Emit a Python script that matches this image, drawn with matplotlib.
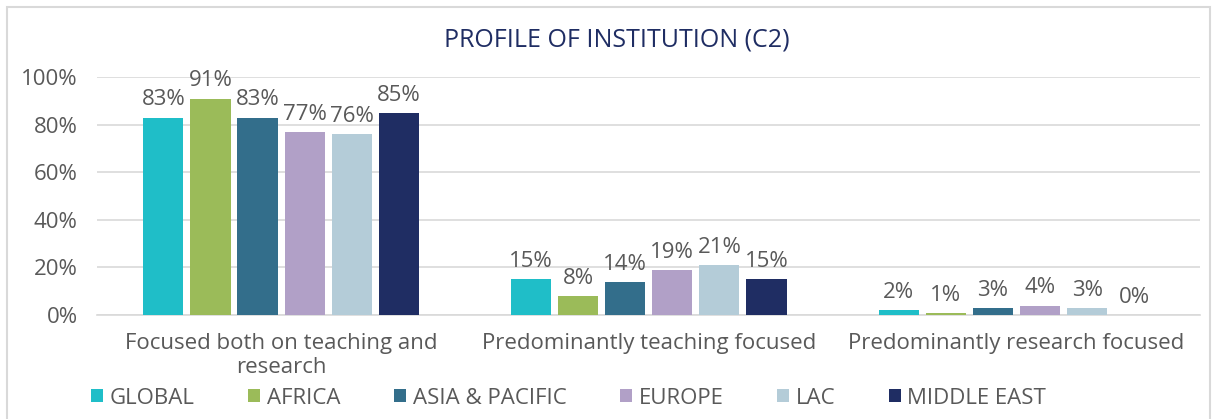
"""
Profile of institution (C2): grouped bar chart by region.
"""

import matplotlib.pyplot as plt
import numpy as np
from matplotlib.patches import Rectangle

# ---------------------------------------------------------------------------
# Data
# ---------------------------------------------------------------------------
CATEGORIES = ["Focused both on teaching and\nresearch",
              "Predominantly teaching focused",
              "Predominantly research focused"]
REGIONS = ["GLOBAL", "AFRICA", "ASIA & PACIFIC", "EUROPE", "LAC", "MIDDLE EAST"]
GLOBAL      = [83, 15, 2]
AFRICA      = [91, 8, 1]
ASIA_PAC    = [83, 14, 3]
EUROPE      = [77, 19, 4]
LAC         = [76, 21, 3]
MIDDLE_EAST = [85, 15, 0]
SERIES = [GLOBAL, AFRICA, ASIA_PAC, EUROPE, LAC, MIDDLE_EAST]
Y_TICKS = [0, 20, 40, 60, 80, 100]

COLORS = ["#1FBEC8", "#9BBB59", "#336E8B", "#B1A0C7", "#B4CCD8", "#1F2D63"]
TEXT = "#595959"
TITLE_COLOR = "#1F2D63"
FS = 16

plt.rcParams["font.family"] = ["Open Sans", "DejaVu Sans"]

fig = plt.figure(figsize=(12.15, 4.19), dpi=100)
fig.patches.append(Rectangle((0.006, -0.01), 0.99, 0.993, transform=fig.transFigure,
                             fill=False, edgecolor="#D9D9D9", linewidth=1.5))

ax = fig.add_axes([0.080, 0.248, 0.908, 0.568])

x = np.arange(len(CATEGORIES))
slot = 0.128
width = 0.109
for i, (vals, name, col) in enumerate(zip(SERIES, REGIONS, COLORS)):
    pos = x + (i - 2.5) * slot
    ax.bar(pos, vals, width=width, color=col, label=name, zorder=3)
    for px, v in zip(pos, vals):
        ax.text(px, v + 3, f"{v}%", ha="center", va="bottom",
                fontsize=FS, color=TEXT)

ax.set_xlim(-0.5, len(CATEGORIES) - 0.5)
ax.set_ylim(0, 100)
ax.set_yticks(Y_TICKS)
ax.set_yticklabels([f"{t}%" for t in Y_TICKS], fontsize=FS, color=TEXT)
ax.set_xticks(x)
ax.set_xticklabels(CATEGORIES, fontsize=FS, color=TEXT, linespacing=1.15)
ax.tick_params(length=0, pad=13)
ax.tick_params(axis="y", pad=14)
ax.grid(axis="y", color="#D9D9D9", linewidth=1.2, zorder=0)
for s in ["top", "right", "left"]:
    ax.spines[s].set_visible(False)
ax.spines["bottom"].set_color("#D9D9D9")
ax.spines["bottom"].set_linewidth(1.2)

fig.text(0.508, 0.905, "PROFILE OF INSTITUTION (C2)", ha="center", va="center",
         fontsize=18, color=TITLE_COLOR, fontweight="medium")

fig.legend(loc="center", bbox_to_anchor=(0.468, 0.05), ncol=6, frameon=False,
           fontsize=FS, handlelength=0.55, handleheight=0.55, handletextpad=0.3,
           columnspacing=2.4, labelcolor=TEXT)

plt.savefig("out.png", dpi=100)
